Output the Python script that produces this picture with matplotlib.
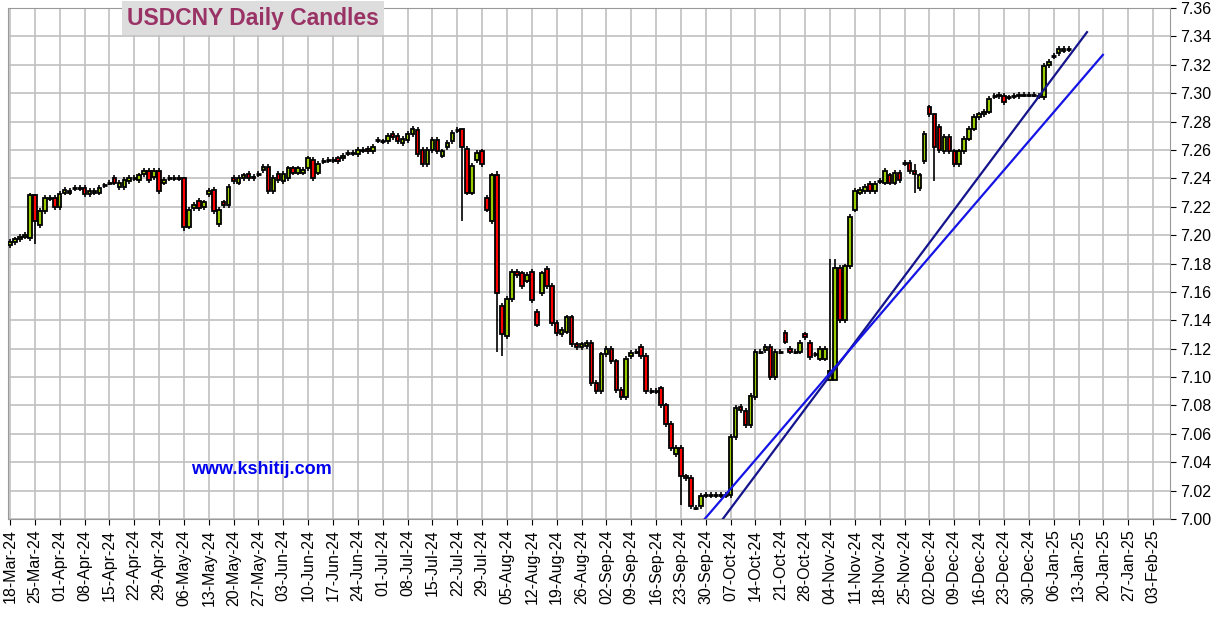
import matplotlib.pyplot as plt
import pandas as pd
import numpy as np

plt.rcParams['font.family'] = ['Liberation Sans', 'DejaVu Sans']

# daily candles, (open, close)
candles = [
    (7.193, 7.195), (7.195, 7.197), (7.197, 7.199), (7.199, 7.200), (7.198, 7.228),
    (7.228, 7.210), (7.207, 7.217), (7.217, 7.226), (7.226, 7.226), (7.226, 7.220),
    (7.220, 7.229), (7.230, 7.232), (7.230, 7.231), (7.233, 7.233), (7.233, 7.233),
    (7.233, 7.229), (7.229, 7.231), (7.230, 7.231), (7.230, 7.233), (7.235, 7.235),
    (7.237, 7.237), (7.240, 7.237), (7.234, 7.237), (7.234, 7.239), (7.238, 7.240),
    (7.240, 7.240), (7.239, 7.242), (7.243, 7.245), (7.245, 7.239), (7.241, 7.245),
    (7.245, 7.231), (7.237, 7.239), (7.240, 7.240), (7.240, 7.240), (7.240, 7.240),
    (7.240, 7.206), (7.206, 7.218), (7.219, 7.221), (7.224, 7.219), (7.220, 7.223),
    (7.229, 7.231), (7.232, 7.217), (7.208, 7.218), (7.223, 7.221), (7.221, 7.234),
    (7.240, 7.238), (7.237, 7.240), (7.240, 7.242), (7.243, 7.240), (7.240, 7.241),
    (7.243, 7.243), (7.246, 7.248), (7.248, 7.231), (7.231, 7.240), (7.243, 7.239),
    (7.238, 7.243), (7.240, 7.247), (7.247, 7.244),
    (7.244, 7.247), (7.244, 7.246), (7.247, 7.254), (7.253, 7.240), (7.244, 7.250),
    (7.252, 7.252), (7.253, 7.253), (7.253, 7.253), (7.254, 7.252), (7.254, 7.256),
    (7.258, 7.258), (7.258, 7.258), (7.257, 7.260), (7.260, 7.260), (7.261, 7.259),
    (7.259, 7.262), (7.267, 7.267), (7.266, 7.266), (7.266, 7.270), (7.271, 7.269),
    (7.270, 7.266), (7.265, 7.268), (7.267, 7.271), (7.271, 7.275), (7.274, 7.257),
    (7.260, 7.250), (7.250, 7.260), (7.260, 7.267), (7.267, 7.259), (7.256, 7.259),
    (7.262, 7.265), (7.266, 7.272), (7.274, 7.274), (7.275, 7.262), (7.261, 7.230),
    (7.230, 7.249), (7.253, 7.258), (7.259, 7.250), (7.226, 7.218), (7.210, 7.242),
    (7.242, 7.159), (7.150, 7.130), (7.129, 7.155), (7.155, 7.174), (7.174, 7.172),
    (7.173, 7.164), (7.168, 7.172), (7.174, 7.154), (7.146, 7.137), (7.159, 7.173),
    (7.176, 7.164), (7.164, 7.138), (7.138, 7.131), (7.130, 7.133), (7.132, 7.142),
    (7.142, 7.123), (7.123, 7.121), (7.121, 7.123), (7.122, 7.124), (7.124, 7.096),
    (7.096, 7.090), (7.090, 7.116), (7.116, 7.120), (7.120, 7.111), (7.111, 7.091),
    (7.091, 7.086), (7.086, 7.113), (7.115, 7.117), (7.118, 7.118), (7.121, 7.115),
    (7.115, 7.090), (7.090, 7.090), (7.090, 7.090), (7.092, 7.080), (7.080, 7.067),
    (7.067, 7.050), (7.046, 7.050), (7.050, 7.030), (7.030, 7.029), (7.029, 7.009),
    (7.008, 7.008), (7.009, 7.016), (7.017, 7.017), (7.017, 7.017), (7.017, 7.017),
    (7.017, 7.017), (7.017, 7.017),
    (7.017, 7.058), (7.058, 7.078), (7.079, 7.077), (7.076, 7.066), (7.066, 7.087),
    (7.086, 7.118), (7.118, 7.118), (7.119, 7.121), (7.121, 7.100), (7.100, 7.118),
    (7.118, 7.118), (7.131, 7.125), (7.120, 7.118), (7.118, 7.118), (7.118, 7.124),
    (7.130, 7.128), (7.124, 7.114), (7.116, 7.116), (7.113, 7.120), (7.113, 7.120),
    (7.098, 7.104), (7.098, 7.177), (7.177, 7.140), (7.140, 7.178), (7.178, 7.213),
    (7.218, 7.231), (7.230, 7.232), (7.231, 7.234), (7.236, 7.231), (7.231, 7.236),
    (7.238, 7.238), (7.237, 7.245), (7.242, 7.237), (7.237, 7.244), (7.244, 7.239),
    (7.251, 7.251), (7.251, 7.245), (7.245, 7.243), (7.233, 7.242), (7.252, 7.271),
    (7.290, 7.285), (7.285, 7.262), (7.276, 7.260), (7.259, 7.269), (7.269, 7.259),
    (7.259, 7.250), (7.250, 7.259), (7.259, 7.268), (7.268, 7.275), (7.275, 7.283),
    (7.283, 7.285), (7.285, 7.287), (7.287, 7.296), (7.298, 7.298), (7.298, 7.299),
    (7.298, 7.294), (7.297, 7.297), (7.298, 7.298), (7.298, 7.299), (7.299, 7.299),
    (7.299, 7.299), (7.299, 7.299), (7.298, 7.298), (7.297, 7.319), (7.320, 7.322),
    (7.326, 7.326), (7.328, 7.331), (7.330, 7.331), (7.331, 7.331),
]
opens = np.array([c[0] for c in candles])
closes = np.array([c[1] for c in candles])

# a few long shadows seen on the chart: index -> (high, low)
long_wicks = {5: (7.229, 7.194), 35: (7.241, 7.203), 91: (7.262, 7.210),
              98: (7.245, 7.118), 99: (7.152, 7.115), 135: (7.052, 7.010),
              165: (7.183, 7.097), 166: (7.183, 7.125), 182: (7.250, 7.230),
              186: (7.276, 7.238)}

highs = np.maximum(opens, closes) + 0.002
lows = np.minimum(opens, closes) - 0.002
for k, (h, l) in long_wicks.items():
    highs[k], lows[k] = h, l

# trend lines, (day index, price)
trend1 = [(140.0, 6.984), (216.7, 7.343)]
trend2 = [(138.8, 6.996), (219.9, 7.327)]

dates = pd.bdate_range('2024-03-18', periods=240)
tick_idx = np.arange(0, 235, 5)
tick_labels = [dates[i].strftime('%d-%b-%y') for i in tick_idx]

fig = plt.figure(figsize=(12.21, 6.19), dpi=100)
ax = fig.add_axes([8/1221, 100/619, 1162/1221, 511/619])

idx = np.arange(len(candles))
up = closes > opens
down = closes < opens
flat = closes == opens
ax.vlines(idx, lows, highs, color='black', lw=1.2, zorder=2)
ax.bar(idx[up], closes[up] - opens[up], bottom=opens[up], width=0.72,
       color='#99cc00', edgecolor='black', lw=1.3, zorder=3)
ax.bar(idx[down], opens[down] - closes[down], bottom=closes[down], width=0.72,
       color='#ff0000', edgecolor='black', lw=1.3, zorder=3)
ax.hlines(opens[flat], idx[flat] - 0.5, idx[flat] + 0.5, color='black', lw=2, zorder=3)

ax.plot(*zip(*trend1), color='#14148c', lw=1.6, zorder=4)
ax.plot(*zip(*trend2), color='#1414e6', lw=1.6, zorder=4)

ax.set_xlim(-0.4, 233.4)
ax.set_ylim(7.00, 7.36)
yt = np.arange(7.00, 7.361, 0.02)
ax.set_yticks(yt)
ax.set_yticklabels([f'{v:.2f}' for v in yt], fontsize=11.5)
ax.yaxis.tick_right()
ax.set_xticks(tick_idx)
ax.set_xticklabels(tick_labels, rotation=90, fontsize=11.5)
ax.tick_params(direction='out', length=4)
ax.grid(True, color='#c0c0c0', lw=1.2)
ax.set_axisbelow(True)
for s in ax.spines.values():
    s.set_color('#999999')

fig.text(127/1221, 1 - 18/619, 'USDCNY Daily Candles', fontsize=16.5, fontweight='bold',
         color='#993366', va='center',
         bbox=dict(facecolor='#dddddd', edgecolor='none', pad=4))
fig.text(191/1221, 1 - 469/619, 'www.kshitij.com', fontsize=13, fontweight='bold',
         color='#0000ee', va='center')

fig.savefig('out.png', dpi=100)
